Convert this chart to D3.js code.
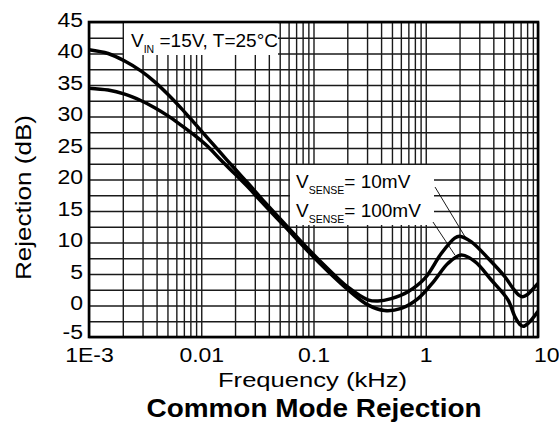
<!DOCTYPE html>
<html>
<head>
<meta charset="utf-8">
<script src="https://cdn.jsdelivr.net/npm/d3@7"></script>
<style>
  html, body { margin: 0; padding: 0; background: #fff; }
  svg { display: block; }
  text { font-family: "Liberation Sans", Arial, Helvetica, sans-serif; fill: #000; }
</style>
</head>
<body>
<svg id="chart" width="559" height="432"></svg>
<script>
// ---- data ----
const xTickValues = [0.001, 0.01, 0.1, 1, 10];
const xTickLabels = ["1E-3", "0.01", "0.1", "1", "10"];
const yTickValues = [-5, 0, 5, 10, 15, 20, 25, 30, 35, 40, 45];

const freq10mV = [0.001, 0.00148, 0.00208, 0.00292, 0.00385, 0.00506, 0.00664, 0.00874, 0.0115, 0.0151, 0.0199, 0.0261, 0.0343, 0.0593, 0.0893, 0.135, 0.203, 0.305, 0.375, 0.493, 0.695, 0.98, 1.38, 1.81, 2.0, 2.55, 3.59, 5.05, 6.0, 6.8, 7.3, 8.0, 8.9, 10];
const rej10mV  = [40.6, 40.0, 38.8, 37.2, 35.5, 33.5, 31.3, 28.9, 26.5, 24.1, 21.7, 19.4, 17.0, 12.4, 9.0, 5.8, 2.9, 0.9, 0.7, 1.1, 2.2, 4.3, 8.3, 10.7, 11.0, 10.1, 7.5, 4.6, 2.7, 1.6, 1.4, 1.7, 2.5, 3.5];

const freq100mV = [0.001, 0.00148, 0.00208, 0.00292, 0.00385, 0.00506, 0.00664, 0.00874, 0.0115, 0.0151, 0.0199, 0.0261, 0.0343, 0.0593, 0.0893, 0.135, 0.203, 0.305, 0.43, 0.605, 0.853, 1.2, 1.58, 2.07, 2.73, 3.84, 5.4, 6.2, 6.9, 7.4, 8.2, 9.1, 10];
const rej100mV  = [34.5, 34.2, 33.55, 32.5, 31.4, 30.1, 28.6, 27.0, 25.2, 23.0, 20.9, 18.8, 16.5, 12.0, 8.6, 5.4, 2.5, 0.1, -0.8, -0.45, 1.1, 4.0, 6.7, 8.0, 7.0, 4.05, 0.9, -1.7, -3.0, -3.3, -2.8, -1.9, -0.9];

const leader10mV  = [[1.21, 18.8], [2.24, 10.9]];
const leader100mV = [[1.16, 13.25], [1.82, 8.0]];

// ---- layout ----
const L = 89, R = 538, T = 22, B = 337;
const svg = d3.select("#chart");
const x = d3.scaleLog().domain([0.001, 10]).range([L, R]);
const y = d3.scaleLinear().domain([-5, 45]).range([B, T]);

function stretch(sel, f) {
  sel.each(function () {
    const w = this.getComputedTextLength();
    d3.select(this).attr("textLength", w * f).attr("lengthAdjust", "spacingAndGlyphs");
  });
}

// grid
const vGrid = [];
for (let d = -3; d <= 0; d++) for (let k = 1; k <= 9; k++) vGrid.push(k * Math.pow(10, d));
vGrid.push(10);
const hGrid = d3.range(-5, 45.01, 2.5);

svg.append("g").attr("transform", `translate(0,${B})`)
  .call(d3.axisBottom(x).tickValues(vGrid).tickSize(-(B - T)).tickFormat(""))
  .call(g => g.select(".domain").remove())
  .selectAll("line").attr("stroke", "#1a1a1a").attr("stroke-width", 1.4);

svg.append("g").attr("transform", `translate(${L},0)`)
  .call(d3.axisLeft(y).tickValues(hGrid).tickSize(-(R - L)).tickFormat(""))
  .call(g => g.select(".domain").remove())
  .selectAll("line").attr("stroke", "#1a1a1a").attr("stroke-width", 1.4);

// annotation boxes (white backgrounds)
svg.append("rect").attr("x", 124).attr("y", T).attr("width", 154).attr("height", 33).attr("fill", "#fff");
svg.append("rect").attr("x", 290).attr("y", 165).attr("width", 144).attr("height", 60).attr("fill", "#fff");

// clip
svg.append("clipPath").attr("id", "plotclip").append("rect")
  .attr("x", L).attr("y", T).attr("width", R - L).attr("height", B - T);

const line = d3.line().x(d => x(d[0])).y(d => y(d[1])).curve(d3.curveCatmullRom.alpha(0.5));
const plot = svg.append("g").attr("clip-path", "url(#plotclip)");
plot.append("path").datum(freq100mV.map((f, i) => [f, rej100mV[i]]))
  .attr("d", line).attr("fill", "none").attr("stroke", "#000").attr("stroke-width", 3.5);
plot.append("path").datum(freq10mV.map((f, i) => [f, rej10mV[i]]))
  .attr("d", line).attr("fill", "none").attr("stroke", "#000").attr("stroke-width", 3.5);

// leaders
const straight = d3.line().x(d => x(d[0])).y(d => y(d[1]));
[leader10mV, leader100mV].forEach(l => {
  svg.append("path").attr("d", straight(l)).attr("stroke", "#000").attr("stroke-width", 0.9).attr("fill", "none");
});

// frame
svg.append("rect").attr("x", L).attr("y", T).attr("width", R - L).attr("height", B - T)
  .attr("fill", "none").attr("stroke", "#000").attr("stroke-width", 2.6);

// axes labels
const yAx = svg.append("g").attr("transform", `translate(${L},0)`)
  .call(d3.axisLeft(y).tickValues(yTickValues).tickSize(0).tickPadding(6).tickFormat(d => d));
yAx.select(".domain").remove();
yAx.selectAll("text").attr("font-size", 20).attr("font-family", "Liberation Sans, Arial, sans-serif").attr("fill", "#000").attr("dy", "0.22em");
yAx.selectAll(".tick").filter(d => d === -5).select("text").attr("dy", "0.05em");
stretch(yAx.selectAll("text"), 1.15);

const xAx = svg.append("g").attr("transform", `translate(0,${B})`)
  .call(d3.axisBottom(x).tickValues(xTickValues).tickSize(0).tickPadding(11)
    .tickFormat((d, i) => xTickLabels[i]));
xAx.select(".domain").remove();
xAx.selectAll("text").attr("font-size", 20).attr("font-family", "Liberation Sans, Arial, sans-serif").attr("fill", "#000");
stretch(xAx.selectAll("text"), 1.15);
xAx.selectAll(".tick").filter(d => d === 10).select("text")
  .attr("text-anchor", "end").attr("x", 559 - R);

// titles
svg.append("text").attr("x", 312.5).attr("y", 387).attr("text-anchor", "middle")
  .attr("font-size", 20).attr("textLength", 189).attr("lengthAdjust", "spacingAndGlyphs")
  .text("Frequency (kHz)");
svg.append("text").attr("x", 314).attr("y", 417).attr("text-anchor", "middle")
  .attr("font-size", 26.5).attr("font-weight", "bold").attr("textLength", 335).attr("lengthAdjust", "spacingAndGlyphs")
  .text("Common Mode Rejection");
svg.append("text").attr("transform", "translate(31,197.5) rotate(-90)").attr("text-anchor", "middle")
  .attr("font-size", 22).attr("textLength", 165).attr("lengthAdjust", "spacingAndGlyphs")
  .text("Rejection (dB)");

// annotations
const t1 = svg.append("text").attr("x", 131).attr("y", 47).attr("font-size", 19);
t1.append("tspan").text("V");
t1.append("tspan").attr("font-size", 10.5).attr("dy", 6).text("IN");
t1.append("tspan").attr("dy", -6).text(" =15V, T=25°C");

function senseLabel(yb, val) {
  const t = svg.append("text").attr("x", 296).attr("y", yb).attr("font-size", 19);
  t.append("tspan").text("V");
  t.append("tspan").attr("font-size", 10.5).attr("dy", 6).text("SENSE");
  t.append("tspan").attr("dy", -6).text("= " + val);
}
senseLabel(188, "10mV");
senseLabel(217, "100mV");
</script>
</body>
</html>
